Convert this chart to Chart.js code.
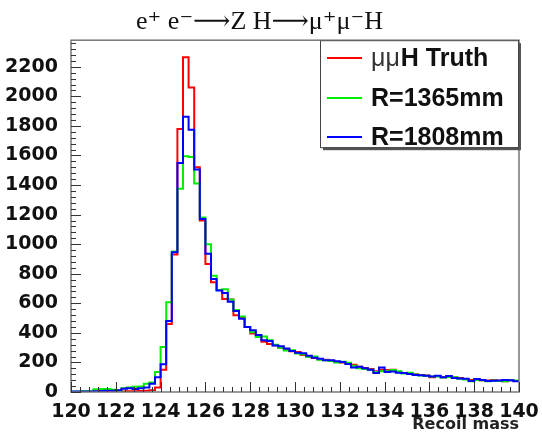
<!DOCTYPE html>
<html>
<head>
<meta charset="utf-8">
<script src="https://cdn.jsdelivr.net/npm/chart.js@4.4.1/dist/chart.umd.min.js"></script>
<style>
html, body { margin: 0; padding: 0; background: #fff; }
#wrap { width: 542px; height: 436px; }
</style>
</head>
<body>
<div id="wrap"><canvas id="recoilChart" width="542" height="436"></canvas></div>
<script>
// histogram bins: 0.25 wide from 120 to 140 (81 edges)
const binEdges = Array.from({ length: 81 }, (_, i) => 120 + i * 0.25);

// mu mu H truth
const truthCounts = [
  0, 0, 2, 0, 2, 2, 3, 2,
  3, 4, 5, 5, 6, 8, 12, 30,
  150, 460, 930, 1780, 2265, 2060, 1520, 1160,
  866, 742, 690, 630, 625, 520, 505, 440,
  395, 380, 340, 325, 316, 300, 290, 275,
  270, 250, 240, 230, 222, 218, 212, 205,
  200, 195, 185, 170, 162, 155, 140, 150,
  148, 150, 135, 128, 125, 120, 115, 112,
  100, 108, 100, 105, 98, 95, 88, 82,
  85, 80, 78, 82, 76, 72, 80, 74
];
// R = 1365 mm
const r1365Counts = [
  2, 3, 5, 5, 18, 20, 20, 15,
  8, 25, 30, 35, 38, 55, 65, 135,
  305, 608, 950, 1375, 1595, 1590, 1410, 1180,
  1000, 787, 690, 695, 625, 555, 510, 440,
  405, 372, 375, 350, 320, 300, 280, 282,
  260, 255, 238, 240, 218, 215, 210, 200,
  205, 198, 178, 160, 155, 150, 135, 140,
  140, 148, 140, 125, 130, 118, 112, 110,
  105, 105, 98, 102, 100, 90, 85, 72,
  82, 80, 72, 78, 75, 72, 80, 78
];
// R = 1808 mm
const r1808Counts = [
  3, 3, 4, 4, 5, 6, 8, 8,
  12, 22, 25, 20, 25, 30, 55, 100,
  188, 480, 945, 1550, 1862, 1775, 1505, 1171,
  935, 765, 686, 670, 610, 548, 496, 440,
  417, 385, 350, 345, 315, 310, 295, 278,
  265, 262, 245, 232, 225, 215, 215, 208,
  203, 190, 165, 170, 160, 150, 128, 165,
  135, 138, 130, 128, 122, 115, 113, 110,
  105, 110, 100, 108, 95, 92, 90, 75,
  88, 82, 75, 76, 78, 82, 80, 72
];

const seriesColors = ['#ff0000', '#00ee00', '#0000ff'];
const xTickValues = [120, 122, 124, 126, 128, 130, 132, 134, 136, 138, 140];
const yTickValues = [0, 200, 400, 600, 800, 1000, 1200, 1400, 1600, 1800, 2000, 2200];

// step points: each left edge holds its bin value, last edge closes the final bin
function toSteps(counts) {
  const pts = counts.map((c, i) => ({ x: binEdges[i], y: c }));
  pts.push({ x: binEdges[counts.length], y: counts[counts.length - 1] });
  return pts;
}

function histo(label, counts, color, order) {
  return {
    label: label,
    data: toSteps(counts),
    borderColor: color,
    backgroundColor: color,
    borderWidth: 2,
    pointRadius: 0,
    stepped: true,
    fill: false,
    order: order
  };
}

// ROOT style frame, inner ticks and the legend box
const rootFrame = {
  id: 'rootFrame',
  afterDraw(chart) {
    const { ctx, chartArea: a, scales: { x, y } } = chart;
    ctx.save();

    // frame
    ctx.strokeStyle = '#777';
    ctx.lineWidth = 1.5;
    ctx.strokeRect(a.left, a.top, a.right - a.left, a.bottom - a.top);

    // x ticks every 0.4, long every 2
    ctx.strokeStyle = '#333';
    ctx.lineWidth = 1;
    ctx.beginPath();
    for (let i = 0; i <= 50; i++) {
      const px = Math.round(x.getPixelForValue(120 + i * 0.4)) + 0.5;
      const len = i % 5 === 0 ? 10 : 5;
      ctx.moveTo(px, a.bottom);
      ctx.lineTo(px, a.bottom - len);
    }
    // y ticks every 40, long every 200
    for (let i = 0; i * 40 <= y.max; i++) {
      const py = Math.round(y.getPixelForValue(i * 40)) + 0.5;
      const len = i % 5 === 0 ? 10 : 5;
      ctx.moveTo(a.left, py);
      ctx.lineTo(a.left + len, py);
    }
    ctx.stroke();

    // legend box with shadow
    const bx = 320, by = a.top, bw = 198, bh = 107;
    ctx.fillStyle = '#555';
    ctx.fillRect(bx + 3, by + 3, bw, bh);
    ctx.fillStyle = '#fff';
    ctx.fillRect(bx, by, bw, bh);
    ctx.strokeStyle = '#444';
    ctx.lineWidth = 1;
    ctx.strokeRect(bx + 0.5, by + 0.5, bw, bh);

    const rows = [58, 98, 137];
    chart.data.datasets.forEach((ds, i) => {
      const ry = rows[i];
      ctx.strokeStyle = ds.borderColor;
      ctx.lineWidth = 2;
      ctx.beginPath();
      ctx.moveTo(327, ry);
      ctx.lineTo(362, ry);
      ctx.stroke();

      ctx.textBaseline = 'middle';
      ctx.textAlign = 'left';
      if (i === 0) {
        ctx.fillStyle = '#333';
        ctx.font = '25px "Liberation Sans"';
        ctx.fillText('μμ', 371, ry + 1);
        const w = ctx.measureText('μμ').width;
        ctx.fillStyle = '#111';
        ctx.font = 'bold 25px "Liberation Sans"';
        ctx.fillText('H Truth', 371 + w + 1, ry + 1);
      } else {
        ctx.fillStyle = '#111';
        ctx.font = 'bold 25px "Liberation Sans"';
        ctx.fillText(ds.label, 371, ry + 1);
      }
    });
    ctx.restore();
  }
};

const ctx = document.getElementById('recoilChart').getContext('2d');

const recoilChart = new Chart(ctx, {
  type: 'line',
  data: {
    datasets: [
      histo('μμH Truth', truthCounts, seriesColors[0], 2),
      histo('R=1365mm', r1365Counts, seriesColors[1], 1),
      histo('R=1808mm', r1808Counts, seriesColors[2], 0)
    ]
  },
  options: {
    responsive: false,
    animation: false,
    devicePixelRatio: 1,
    layout: { padding: { left: 0, right: 23, top: 0, bottom: 0 } },
    plugins: {
      legend: { display: false },
      tooltip: { enabled: false },
      title: {
        display: true,
        text: 'e⁺ e⁻⟶Z H⟶μ⁺μ⁻H',
        color: '#111',
        font: { family: '"Liberation Serif", "DejaVu Serif"', size: 26, weight: 'normal' },
        padding: { top: 7, bottom: 2 }
      }
    },
    scales: {
      x: {
        type: 'linear',
        min: 120,
        max: 140,
        grid: { display: false },
        border: { display: false },
        afterBuildTicks: s => { s.ticks = xTickValues.map(v => ({ value: v })); },
        afterFit: s => { s.height = 44; s.paddingLeft = 0; s.paddingRight = 0; },
        ticks: {
          autoSkip: false,
          maxRotation: 0,
          padding: 1,
          color: '#111',
          callback: v => String(v),
          font: { family: '"DejaVu Sans"', size: 19, weight: 'bold' }
        },
        title: {
          display: true,
          text: 'Recoil mass',
          align: 'end',
          color: '#222',
          padding: { top: 0, bottom: 2 },
          font: { family: '"DejaVu Sans"', size: 16, weight: 'bold' }
        }
      },
      y: {
        min: 0,
        max: 2380,
        grid: { display: false },
        border: { display: false },
        afterBuildTicks: s => { s.ticks = yTickValues.map(v => ({ value: v })); },
        afterFit: s => { s.width = 71; },
        ticks: {
          padding: 5,
          color: '#111',
          callback: v => String(v),
          font: { family: '"DejaVu Sans"', size: 19, weight: 'bold' }
        }
      }
    }
  },
  plugins: [rootFrame]
});
</script>
</body>
</html>
